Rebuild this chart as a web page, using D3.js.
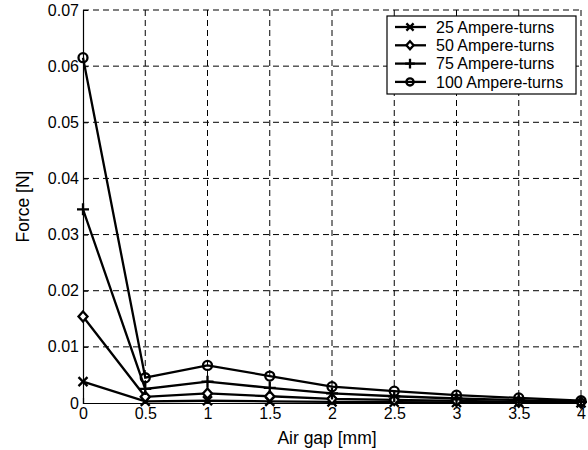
<!DOCTYPE html>
<html>
<head>
<meta charset="utf-8">
<script src="https://cdn.jsdelivr.net/npm/d3@7"></script>
<style>
  body { margin: 0; background: #fff; }
  text { font-family: "Liberation Sans", Arial, sans-serif; fill: #000; }
</style>
</head>
<body>
<svg id="chart"></svg>
<script>
const airGap = [0, 0.5, 1, 1.5, 2, 2.5, 3, 3.5, 4];
const at25 = [0.0038, 0.0003, 0.0004, 0.0003, 0.0002, 0.00014, 0.0001, 0.00006, 0.00003];
const at50 = [0.0154, 0.0011, 0.0017, 0.0012, 0.00075, 0.00055, 0.00037, 0.00022, 0.0001];
const at75 = [0.0345, 0.0025, 0.0038, 0.0027, 0.0017, 0.0012, 0.0008, 0.0005, 0.0002];
const at100 = [0.0615, 0.0045, 0.0067, 0.0048, 0.0029, 0.0021, 0.0014, 0.0009, 0.0004];
const seriesNames = ["25 Ampere-turns", "50 Ampere-turns", "75 Ampere-turns", "100 Ampere-turns"];
const markerTypes = ["x", "diamond", "plus", "circle"];
const xTicks = [0, 0.5, 1, 1.5, 2, 2.5, 3, 3.5, 4];
const yTicks = [0, 0.01, 0.02, 0.03, 0.04, 0.05, 0.06, 0.07];

const series = [at25, at50, at75, at100].map((vals, i) => ({
  name: seriesNames[i],
  marker: markerTypes[i],
  values: vals.map((v, j) => ({ x: airGap[j], y: v }))
}));

const margin = { top: 10, right: 7, bottom: 47, left: 83 };
const W = 588, H = 450;
const width = W - margin.left - margin.right;
const height = H - margin.top - margin.bottom;

const root = d3.select("#chart").attr("width", W).attr("height", H);
const svg = root.append("g").attr("transform", `translate(${margin.left},${margin.top})`);

const x = d3.scaleLinear().domain([0, 4]).range([0, width]);
const y = d3.scaleLinear().domain([0, 0.07]).range([height, 0]);

// dashed grid
svg.append("g").selectAll("line").data(xTicks.slice(1)).enter().append("line")
  .attr("x1", d => x(d)).attr("x2", d => x(d))
  .attr("y1", 0).attr("y2", height)
  .attr("stroke", "#000").attr("stroke-width", 1).attr("stroke-dasharray", "6,4");
svg.append("g").selectAll("line").data(yTicks.slice(1)).enter().append("line")
  .attr("x1", 0).attr("x2", width)
  .attr("y1", d => y(d)).attr("y2", d => y(d))
  .attr("stroke", "#000").attr("stroke-width", 1).attr("stroke-dasharray", "6,4");

// axes
const xAxis = svg.append("g")
  .attr("transform", `translate(0,${height})`)
  .call(d3.axisBottom(x).tickValues(xTicks).tickSize(-5).tickPadding(5).tickFormat(d3.format("")));
const yAxis = svg.append("g")
  .call(d3.axisLeft(y).tickValues(yTicks).tickSize(-5).tickPadding(4).tickFormat(d => d === 0 ? "0" : d3.format(".2f")(d)));
[xAxis, yAxis].forEach(a => {
  a.select(".domain").attr("stroke", "#000").attr("stroke-width", 1.2);
  a.selectAll("text").style("font-size", "16px").attr("fill", "#000");
});

svg.append("text")
  .attr("x", width / 2 - 5).attr("y", height + 41)
  .attr("text-anchor", "middle").style("font-size", "17.5px")
  .text("Air gap [mm]");
svg.append("text")
  .attr("transform", "rotate(-90)")
  .attr("x", -height / 2).attr("y", -54)
  .attr("text-anchor", "middle").style("font-size", "17.5px")
  .text("Force [N]");

function drawMarker(g, type, cx, cy, k = 1) {
  if (type === "x") {
    const s = 4.5 * k;
    g.append("path").attr("d", `M${cx - s},${cy - s}L${cx + s},${cy + s}M${cx - s},${cy + s}L${cx + s},${cy - s}`);
  } else if (type === "plus") {
    const s = 6 * k;
    g.append("path").attr("d", `M${cx - s},${cy}L${cx + s},${cy}M${cx},${cy - s}L${cx},${cy + s}`);
  } else if (type === "diamond") {
    g.append("path").attr("d", `M${cx},${cy - 5 * k}L${cx + 4.5 * k},${cy}L${cx},${cy + 5 * k}L${cx - 4.5 * k},${cy}Z`).attr("fill", "#fff");
  } else {
    g.append("circle").attr("cx", cx).attr("cy", cy).attr("r", 4.5 * k).attr("fill", "none");
  }
}

const line = d3.line().x(d => x(d.x)).y(d => y(d.y));

series.forEach(s => {
  const g = svg.append("g").attr("stroke", "#000").attr("stroke-width", 2.3).attr("fill", "none");
  g.append("path").attr("d", line(s.values));
  s.values.forEach(p => drawMarker(g, s.marker, x(p.x), y(p.y)));
});

// legend
const lg = root.append("g").attr("transform", "translate(387,16)");
lg.append("rect").attr("width", 189).attr("height", 78)
  .attr("fill", "#fff").attr("stroke", "#000").attr("stroke-width", 1.2);
series.forEach((s, i) => {
  const cy = 11 + i * 18.3;
  const g = lg.append("g").attr("stroke", "#000").attr("stroke-width", 2.3).attr("fill", "none");
  g.append("line").attr("x1", 8).attr("x2", 39).attr("y1", cy).attr("y2", cy);
  drawMarker(g, s.marker, 23, cy, 0.8);
  lg.append("text").attr("x", 49).attr("y", cy + 5.7).style("font-size", "16px").text(s.name);
});
</script>
</body>
</html>
